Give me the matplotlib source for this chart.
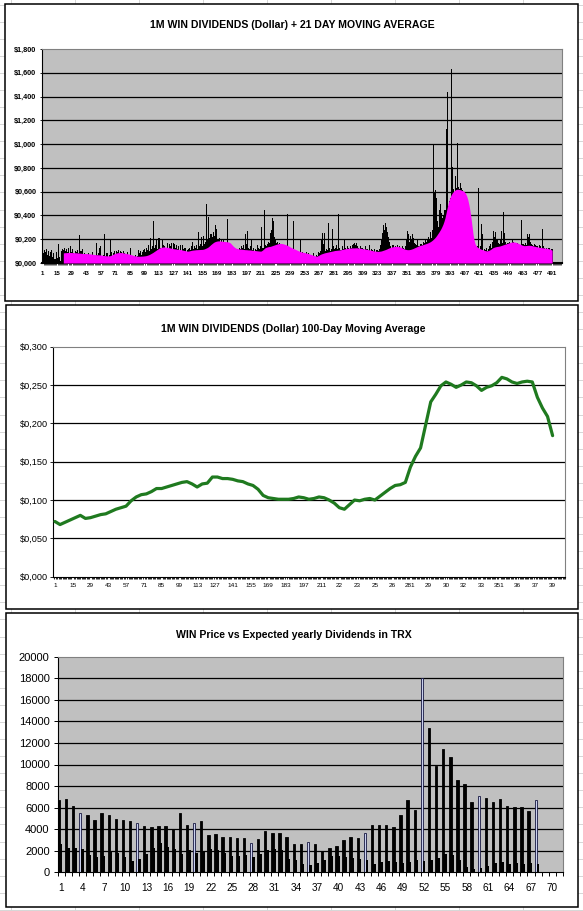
import matplotlib.pyplot as plt
from matplotlib.ticker import MultipleLocator, FixedLocator
from matplotlib.patches import Rectangle
from matplotlib.lines import Line2D
import numpy as np

plt.rcParams['font.family'] = ['Liberation Sans', 'DejaVu Sans']

W, H = 583, 911

# ---- chart 1: daily dividends (days 1..491) and 21 day moving average (days 21..491)
daily = [
    0.10, 0.08, 0.11, 0.09, 0.12, 0.07, 0.10, 0.06, 0.09, 0.11, 0.05, 0.08, 0.03, 0.09,
    0.04, 0.16, 0.05, 0.02, 0.10, 0.12, 0.11, 0.13, 0.10, 0.12, 0.09, 0.13, 0.08, 0.14,
    0.09, 0.12, 0.08, 0.07, 0.10, 0.09, 0.11, 0.08, 0.235, 0.10, 0.12, 0.07, 0.08, 0.06,
    0.07, 0.06, 0.08, 0.05, 0.07, 0.06, 0.09, 0.05, 0.07, 0.06, 0.165, 0.07, 0.08, 0.13,
    0.14, 0.06, 0.05, 0.07, 0.245, 0.06, 0.08, 0.05, 0.07, 0.20, 0.09, 0.06, 0.08, 0.10,
    0.07, 0.10, 0.09, 0.11, 0.08, 0.10, 0.09, 0.07, 0.10, 0.08, 0.06, 0.07, 0.09, 0.06,
    0.07, 0.13, 0.05, 0.06, 0.04, 0.07, 0.05, 0.06, 0.11, 0.08, 0.10, 0.07, 0.09, 0.11,
    0.12, 0.09, 0.13, 0.11, 0.15, 0.10, 0.21, 0.12, 0.14, 0.355, 0.13, 0.15, 0.19, 0.12,
    0.21, 0.13, 0.12, 0.19, 0.15, 0.14, 0.13, 0.11, 0.17, 0.12, 0.16, 0.14, 0.17, 0.12,
    0.17, 0.16, 0.13, 0.15, 0.12, 0.14, 0.11, 0.15, 0.10, 0.15, 0.12, 0.13, 0.09, 0.11,
    0.12, 0.13, 0.11, 0.14, 0.18, 0.12, 0.14, 0.13, 0.15, 0.12, 0.263, 0.14, 0.16, 0.22,
    0.14, 0.23, 0.16, 0.18, 0.50, 0.20, 0.39, 0.21, 0.24, 0.22, 0.26, 0.23, 0.32, 0.29,
    0.20, 0.19, 0.21, 0.17, 0.20, 0.18, 0.19, 0.16, 0.18, 0.17, 0.37, 0.16, 0.15, 0.14,
    0.12, 0.14, 0.11, 0.13, 0.10, 0.12, 0.11, 0.13, 0.12, 0.14, 0.13, 0.15, 0.12, 0.24,
    0.16, 0.27, 0.13, 0.12, 0.14, 0.205, 0.11, 0.13, 0.10, 0.12, 0.11, 0.15, 0.13, 0.12,
    0.14, 0.30, 0.13, 0.445, 0.15, 0.14, 0.16, 0.18, 0.17, 0.25, 0.28, 0.38, 0.35, 0.22,
    0.19, 0.17, 0.18, 0.16, 0.17, 0.15, 0.16, 0.14, 0.15, 0.13, 0.14, 0.12, 0.415, 0.12,
    0.12, 0.11, 0.10, 0.35, 0.11, 0.10, 0.09, 0.10, 0.08, 0.09, 0.19, 0.08, 0.09, 0.07,
    0.08, 0.07, 0.09, 0.06, 0.08, 0.07, 0.05, 0.07, 0.06, 0.08, 0.05, 0.07, 0.06, 0.09,
    0.08, 0.10, 0.20, 0.25, 0.16, 0.25, 0.10, 0.12, 0.11, 0.34, 0.13, 0.10, 0.12, 0.29,
    0.14, 0.12, 0.13, 0.15, 0.12, 0.41, 0.13, 0.11, 0.14, 0.12, 0.20, 0.13, 0.12, 0.14,
    0.13, 0.12, 0.14, 0.13, 0.15, 0.16, 0.17, 0.15, 0.165, 0.14, 0.13, 0.12, 0.14, 0.13,
    0.13, 0.12, 0.11, 0.14, 0.12, 0.11, 0.15, 0.10, 0.12, 0.11, 0.10, 0.12, 0.09, 0.11,
    0.11, 0.10, 0.12, 0.15, 0.20, 0.25, 0.32, 0.28, 0.34, 0.30, 0.26, 0.22, 0.18, 0.14,
    0.13, 0.15, 0.12, 0.14, 0.13, 0.15, 0.12, 0.14, 0.13, 0.12, 0.14, 0.13, 0.12, 0.14,
    0.20, 0.27, 0.24, 0.18, 0.23, 0.19, 0.24, 0.21, 0.17, 0.16, 0.15, 0.19, 0.14, 0.16,
    0.16, 0.15, 0.18, 0.17, 0.19, 0.18, 0.20, 0.22, 0.19, 0.26, 0.21, 0.28, 0.99, 0.60,
    0.61, 0.55, 0.35, 0.30, 0.45, 0.50, 0.42, 0.38, 0.40, 0.45, 1.13, 1.44, 0.48, 0.52,
    0.55, 1.63, 0.81, 0.62, 0.60, 0.73, 0.63, 1.01, 0.64, 0.62, 0.67, 0.63, 0.61, 0.60,
    0.55, 0.52, 0.50, 0.45, 0.40, 0.35, 0.30, 0.22, 0.18, 0.15, 0.13, 0.12, 0.14, 0.63,
    0.12, 0.14, 0.33, 0.24, 0.10, 0.12, 0.11, 0.13, 0.10, 0.12, 0.14, 0.16, 0.13, 0.18,
    0.27, 0.22, 0.26, 0.20, 0.17, 0.16, 0.19, 0.27, 0.17, 0.43, 0.25, 0.18, 0.16, 0.17,
    0.17, 0.18, 0.16, 0.17, 0.19, 0.18, 0.17, 0.16, 0.15, 0.17, 0.16, 0.15, 0.14, 0.36,
    0.16, 0.15, 0.17, 0.15, 0.24, 0.22, 0.24, 0.18, 0.16, 0.15, 0.14, 0.16, 0.15, 0.14,
    0.14, 0.13, 0.15, 0.14, 0.13, 0.29, 0.14, 0.13, 0.12, 0.13, 0.12, 0.13, 0.11, 0.12,
    0.12,
]
ma21 = [
    0.085, 0.086, 0.087, 0.087, 0.088, 0.088, 0.088, 0.088,
    0.088, 0.087, 0.087, 0.086, 0.086, 0.085, 0.085, 0.084, 0.083, 0.082, 0.081, 0.080, 0.080, 0.080,
    0.080, 0.079, 0.078, 0.077, 0.076, 0.075, 0.074, 0.072, 0.071, 0.070, 0.070, 0.069, 0.069, 0.068,
    0.068, 0.066, 0.064, 0.063, 0.062, 0.061, 0.060, 0.060, 0.060, 0.062, 0.065, 0.070, 0.074, 0.078,
    0.082, 0.084, 0.086, 0.087, 0.088, 0.088, 0.087, 0.086, 0.085, 0.083, 0.081, 0.079, 0.077, 0.075,
    0.073, 0.071, 0.068, 0.065, 0.062, 0.060, 0.059, 0.058, 0.057, 0.057, 0.057, 0.058, 0.058, 0.059,
    0.060, 0.061, 0.063, 0.066, 0.069, 0.073, 0.078, 0.083, 0.088, 0.094, 0.100, 0.106, 0.112, 0.118,
    0.124, 0.128, 0.131, 0.133, 0.135, 0.135, 0.134, 0.133, 0.132, 0.130, 0.128, 0.126, 0.124, 0.122,
    0.120, 0.119, 0.118, 0.117, 0.116, 0.115, 0.114, 0.112, 0.110, 0.108, 0.106, 0.104, 0.102, 0.100,
    0.100, 0.102, 0.104, 0.106, 0.108, 0.109, 0.110, 0.111, 0.112, 0.112, 0.113, 0.113, 0.114, 0.114,
    0.115, 0.117, 0.120, 0.124, 0.128, 0.133, 0.140, 0.148, 0.156, 0.163, 0.170, 0.176, 0.180, 0.183,
    0.185, 0.186, 0.186, 0.185, 0.184, 0.183, 0.182, 0.181, 0.180, 0.179, 0.178, 0.176, 0.172, 0.165,
    0.155, 0.145, 0.137, 0.130, 0.125, 0.122, 0.120, 0.118, 0.117, 0.116, 0.115, 0.114, 0.113, 0.112,
    0.112, 0.111, 0.110, 0.110, 0.109, 0.108, 0.107, 0.106, 0.105, 0.104, 0.103, 0.102, 0.101, 0.100,
    0.100, 0.105, 0.112, 0.120, 0.128, 0.132, 0.135, 0.137, 0.139, 0.140, 0.143, 0.146, 0.149, 0.152,
    0.155, 0.158, 0.161, 0.163, 0.165, 0.165, 0.164, 0.162, 0.160, 0.157, 0.154, 0.150, 0.146, 0.141,
    0.135, 0.131, 0.127, 0.123, 0.119, 0.115, 0.111, 0.107, 0.103, 0.099, 0.095, 0.093, 0.091, 0.089,
    0.087, 0.085, 0.083, 0.081, 0.078, 0.075, 0.072, 0.069, 0.066, 0.063, 0.060, 0.058, 0.058, 0.062,
    0.067, 0.072, 0.076, 0.079, 0.082, 0.085, 0.087, 0.089, 0.091, 0.093, 0.095, 0.097, 0.099, 0.101,
    0.103, 0.105, 0.106, 0.107, 0.108, 0.109, 0.110, 0.112, 0.114, 0.116, 0.118, 0.120, 0.122, 0.123,
    0.124, 0.125, 0.126, 0.127, 0.127, 0.127, 0.127, 0.128, 0.128, 0.127, 0.126, 0.125, 0.124, 0.122,
    0.120, 0.119, 0.118, 0.117, 0.115, 0.113, 0.111, 0.109, 0.107, 0.105, 0.103, 0.101, 0.100, 0.099,
    0.098, 0.098, 0.099, 0.100, 0.102, 0.105, 0.108, 0.111, 0.114, 0.118, 0.122, 0.126, 0.129, 0.132,
    0.135, 0.137, 0.139, 0.140, 0.140, 0.140, 0.139, 0.137, 0.134, 0.130, 0.126, 0.122, 0.118, 0.115,
    0.113, 0.112, 0.112, 0.113, 0.115, 0.118, 0.121, 0.125, 0.129, 0.133, 0.137, 0.141, 0.145, 0.148,
    0.150, 0.152, 0.155, 0.158, 0.161, 0.164, 0.167, 0.171, 0.175, 0.180, 0.186, 0.193, 0.201, 0.210,
    0.220, 0.232, 0.245, 0.258, 0.272, 0.287, 0.305, 0.325, 0.350, 0.380, 0.420, 0.460, 0.500, 0.530,
    0.555, 0.575, 0.590, 0.600, 0.610, 0.615, 0.620, 0.620, 0.620, 0.618, 0.615, 0.612, 0.608, 0.603,
    0.595, 0.580, 0.560, 0.530, 0.490, 0.440, 0.380, 0.310, 0.240, 0.190, 0.160, 0.145, 0.135, 0.128,
    0.123, 0.119, 0.115, 0.112, 0.109, 0.106, 0.103, 0.102, 0.103, 0.106, 0.110, 0.115, 0.122, 0.128,
    0.132, 0.135, 0.137, 0.139, 0.140, 0.142, 0.144, 0.147, 0.150, 0.153, 0.156, 0.159, 0.162, 0.165,
    0.168, 0.171, 0.174, 0.176, 0.177, 0.177, 0.176, 0.174, 0.171, 0.167, 0.163, 0.159, 0.155, 0.151,
    0.148, 0.146, 0.146, 0.147, 0.148, 0.149, 0.149, 0.148, 0.147, 0.145, 0.143, 0.141, 0.139, 0.137,
    0.135, 0.133, 0.131, 0.130, 0.129, 0.128, 0.127, 0.126, 0.125, 0.124, 0.122, 0.119, 0.116, 0.112,
    0.108,
]
ma21_start = 21

# ---- chart 2: 100 day moving average, read every 4th day (1, 5, ..., 393)
ma100 = [
    0.072, 0.068, 0.071, 0.074, 0.077, 0.080, 0.076, 0.077, 0.079, 0.081,
    0.082, 0.085, 0.088, 0.090, 0.092, 0.099, 0.104, 0.107, 0.108, 0.111,
    0.115, 0.115, 0.117, 0.119, 0.121, 0.123, 0.124, 0.121, 0.117, 0.121,
    0.122, 0.130, 0.130, 0.128, 0.128, 0.127, 0.125, 0.124, 0.121, 0.119,
    0.114, 0.106, 0.103, 0.102, 0.101, 0.101, 0.101, 0.102, 0.104, 0.103,
    0.101, 0.102, 0.104, 0.103, 0.100, 0.096, 0.090, 0.088, 0.094, 0.100,
    0.099, 0.101, 0.102, 0.100, 0.105, 0.110, 0.115, 0.119, 0.120, 0.123,
    0.143, 0.157, 0.168, 0.198, 0.228, 0.238, 0.249, 0.254, 0.251, 0.247,
    0.250, 0.254, 0.253, 0.249, 0.243, 0.247, 0.249, 0.253, 0.260, 0.258,
    0.254, 0.252, 0.254, 0.255, 0.254, 0.234, 0.220, 0.209, 0.184,
]
ma100_step = 4
ma100_labels = ["1", "15", "29", "43", "57", "71", "85", "99", "113", "127",
                "141", "155", "169", "183", "197", "211", "22", "23", "25", "26",
                "281", "29", "30", "32", "33", "351", "36", "37", "39"]

# ---- chart 3: WIN price vs expected yearly dividends in TRX
price = [6707, 6800, 6150, 5473, 5315, 4851, 5500, 5346, 4944, 4851,
         4789, 4545, 4297, 4205, 4297, 4297, 3989, 5531, 4390, 4545,
         4760, 3463, 3555, 3277, 3277, 3184, 3184, 2720, 3091, 3860,
         3648, 3648, 3277, 2625, 2594, 2783, 2594, 2006, 2254, 2440,
         2996, 3277, 3184, 3648, 4390, 4390, 4390, 4205, 5315, 6707,
         5779, 17996, 13414, 9888, 11437, 10723, 8562, 8191, 6549, 7078,
         6920, 6549, 6800, 6178, 6029, 6029, 5686, 6707]
dividends = [2625, 2254, 2254, 2161, 1605, 1450, 1512, 1913, 1821, 1388,
             1079, 1265, 1698, 2254, 2748, 2378, 2161, 1698, 2068, 1790,
             1883, 2161, 2068, 1790, 1512, 1512, 1605, 1420, 1698, 2068,
             2192, 2068, 1265, 1141, 772, 680, 865, 1141, 1512, 1512,
             1420, 1327, 1234, 1141, 772, 989, 1079, 958, 896, 989,
             1141, 1079, 1141, 1327, 1698, 1605, 1141, 519, 306, 427,
             584, 896, 989, 772, 896, 772, 896, 772]
highlight = [4, 12, 20, 28, 36, 44, 52, 60, 68]
n_cats3 = 71

title1 = "1M WIN DIVIDENDS (Dollar) + 21 DAY MOVING AVERAGE"
title2 = "1M WIN DIVIDENDS (Dollar) 100-Day Moving Average"
title3 = "WIN Price vs Expected yearly Dividends in TRX"


def px_axes(fig, x0, y0, x1, y1):
    return fig.add_axes([x0 / W, 1 - y1 / H, (x1 - x0) / W, (y1 - y0) / H])


def dollar(v):
    return ('$%.3f' % v).replace('.', ',')


def style_spines(ax):
    ax.spines['left'].set_color('black')
    ax.spines['bottom'].set_color('black')
    ax.spines['top'].set_color('#808080')
    ax.spines['right'].set_color('#808080')
    for s in ax.spines.values():
        s.set_linewidth(0.8)


fig = plt.figure(figsize=(W / 100, H / 100), dpi=100)

# spreadsheet cells behind the charts
for x in range(11, W, 64):
    fig.add_artist(Line2D([x / W, x / W], [0, 1], color='#d6d6d6', lw=0.7, zorder=-3))
for k in range(54):
    y = 4.6 + 17.08 * k
    fig.add_artist(Line2D([0, 1], [1 - y / H, 1 - y / H], color='#d6d6d6', lw=0.7, zorder=-3))

for x0, y0, x1, y1 in [(5, 4, 578, 301), (5.5, 305, 578, 609), (6, 613, 578, 907)]:
    fig.add_artist(Rectangle((x0 / W, 1 - y1 / H), (x1 - x0) / W, (y1 - y0) / H,
                             transform=fig.transFigure, facecolor='white',
                             edgecolor='black', lw=1.1, zorder=-2))

# ---------- chart 1
days = np.arange(1, len(daily) + 1)
ma_days = np.arange(ma21_start, ma21_start + len(ma21))
ax1 = px_axes(fig, 42, 49, 562, 263)
ax1.set_facecolor('#c0c0c0')
yt1 = np.arange(0, 1.81, 0.2)
ax1.hlines(yt1[1:-1], 0.5, 500.5, color='black', lw=0.9, zorder=1)
ax1.bar(days, daily, width=1.0, color='black', linewidth=0, zorder=2)
ax1.fill_between(ma_days, ma21, color='#ff00ff', linewidth=0, zorder=3)
ax1.set_xlim(0.5, 500.5)
ax1.set_ylim(0, 1.8)
ax1.set_yticks(yt1, [dollar(v) for v in yt1], fontsize=5.2, fontweight='bold')
xt1 = list(range(1, 492, 14))
ax1.set_xticks(xt1, [str(v) for v in xt1], fontsize=4.4, fontweight='bold')
ax1.xaxis.set_minor_locator(MultipleLocator(1))
ax1.tick_params(axis='x', which='major', length=0, pad=5.5)
ax1.tick_params(axis='x', which='minor', length=1.6, width=0.5)
ax1.tick_params(axis='y', length=1.6, width=0.6, pad=2.4)
style_spines(ax1)
ax1.spines['bottom'].set_linewidth(1.5)
fig.text(292.5 / W, 1 - 25 / H, title1, ha='center', va='center',
         fontsize=7.6, fontweight='bold')

# ---------- chart 2
ma100_days = np.arange(1, 1 + ma100_step * len(ma100), ma100_step)
ax2 = px_axes(fig, 53.3, 346.7, 565.3, 576.7)
ax2.set_facecolor('white')
yt2 = np.arange(0, 0.301, 0.05)
ax2.hlines(yt2[1:-1], -0.3, 403, color='black', lw=0.9, zorder=1)
ax2.plot(ma100_days, ma100, color='#1f7a1f', lw=2.3, solid_joinstyle='round',
         solid_capstyle='round', zorder=3)
ax2.set_xlim(-0.3, 403)
ax2.set_ylim(0, 0.3)
ax2.set_yticks(yt2, [dollar(v) for v in yt2], fontsize=6.6)
xt2 = list(range(1, 394, 14))
ax2.set_xticks(xt2, ma100_labels, fontsize=4.6)
ax2.xaxis.set_minor_locator(MultipleLocator(1))
ax2.tick_params(axis='x', which='major', length=0, pad=4.6)
ax2.tick_params(axis='x', which='minor', length=1.6, width=0.6)
ax2.tick_params(axis='y', length=2.2, width=0.6, pad=1.5)
style_spines(ax2)
fig.text(293.5 / W, 1 - 329 / H, title2, ha='center', va='center',
         fontsize=7.6, fontweight='bold')

# ---------- chart 3
cats = np.arange(1, len(price) + 1)
ax3 = px_axes(fig, 57.7, 656.7, 563, 872.3)
ax3.set_facecolor('#c0c0c0')
yt3 = np.arange(0, 20001, 2000)
ax3.hlines(yt3[1:-1], 0.5, n_cats3 + 0.5, color='black', lw=0.9, zorder=1)
face = ['#c9d0ee' if c in highlight else 'black' for c in cats]
edge = ['#161640' if c in highlight else 'black' for c in cats]
ax3.bar(cats - 1 / 3, price, width=1 / 3, color=face, edgecolor=edge, linewidth=0.6, zorder=2)
ax3.bar(cats, dividends, width=1 / 3, color='black', linewidth=0, zorder=2)
ax3.set_xlim(0.5, n_cats3 + 0.5)
ax3.set_ylim(0, 20000)
ax3.set_yticks(yt3, [str(v) for v in yt3], fontsize=8)
xt3 = list(range(1, n_cats3 + 1, 3))
ax3.set_xticks(xt3, [str(v) for v in xt3], fontsize=7.2)
ax3.xaxis.set_minor_locator(FixedLocator(np.arange(0.5, n_cats3 + 1, 1)))
ax3.tick_params(axis='x', which='major', length=0, pad=7.4)
ax3.tick_params(axis='x', which='minor', length=2.8, width=0.7)
ax3.tick_params(axis='y', length=2.8, width=0.7, pad=3.0)
style_spines(ax3)
fig.text(294 / W, 1 - 635 / H, title3, ha='center', va='center',
         fontsize=7.6, fontweight='bold')

fig.savefig('out.png', dpi=100)
